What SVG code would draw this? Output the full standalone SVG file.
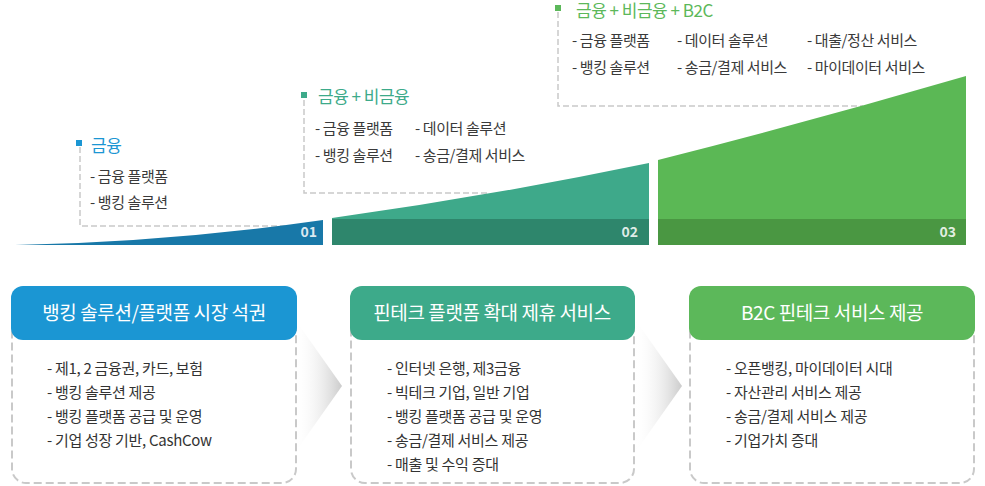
<svg xmlns="http://www.w3.org/2000/svg" width="985" height="486" viewBox="0 0 985 486">
<style>
text{font-family:"Noto Sans CJK KR","Noto Sans",sans-serif}
.item{font-size:15px;fill:#3a3a3a;letter-spacing:-0.4px}
.ttl{font-size:17px;letter-spacing:-0.5px}
.lead{fill:none;stroke:#c9c9c9;stroke-width:1.5;stroke-dasharray:6 3}
.num{font-size:14px;font-weight:bold;fill:#fff;fill-opacity:0.85;text-anchor:end}
.frame{fill:#fff;stroke:#c9c9c9;stroke-width:2;stroke-dasharray:8 4}
.head{font-size:19px;fill:#fff;text-anchor:middle;letter-spacing:-0.4px}
.body{font-size:15px;fill:#333;letter-spacing:-0.3px}
</style>
<defs>
<linearGradient id="chev" x1="0" y1="0" x2="1" y2="0">
<stop offset="0" stop-color="#fff" stop-opacity="0"/>
<stop offset="1" stop-color="#cbcbcb"/>
</linearGradient>
</defs>
<rect width="985" height="486" fill="#fff"/>

<g id="stage1">
<path class="lead" d="M80,147 V226 H285"/>
<rect x="76" y="140" width="6" height="6" fill="#1b96d3"/>
<text x="91" y="152" class="ttl" fill="#1b96d3">금융</text>
<text x="90" y="182" class="item">- 금융 플랫폼</text>
<text x="90" y="208" class="item">- 뱅킹 솔루션</text>
</g>

<g id="stage2">
<path class="lead" d="M304,100 V193 H490"/>
<rect x="301" y="92" width="6" height="6" fill="#3daa8a"/>
<text x="318" y="103" class="ttl" fill="#3daa8a">금융 + 비금융</text>
<text x="315" y="134" class="item">- 금융 플랫폼</text>
<text x="315" y="161" class="item">- 뱅킹 솔루션</text>
<text x="415" y="134" class="item">- 데이터 솔루션</text>
<text x="415" y="161" class="item">- 송금/결제 서비스</text>
</g>

<g id="stage3">
<path class="lead" d="M558,12 V106 H863"/>
<rect x="555" y="5" width="6" height="6" fill="#5cb85a"/>
<text x="576" y="17" class="ttl" fill="#5cb85a">금융 + 비금융 + B2C</text>
<text x="572" y="46" class="item">- 금융 플랫폼</text>
<text x="572" y="73" class="item">- 뱅킹 솔루션</text>
<text x="677" y="46" class="item">- 데이터 솔루션</text>
<text x="677" y="73" class="item">- 송금/결제 서비스</text>
<text x="807" y="46" class="item">- 대출/정산 서비스</text>
<text x="807" y="73" class="item">- 마이데이터 서비스</text>
</g>

<g id="curve1">
<path d="M15,245 Q169,242 323,220 L323,245 Z" fill="#1878a8"/>
<text x="317" y="237" class="num">01</text>
</g>
<g id="curve2">
<path d="M332,245 L332,218 Q490,196 649,163 L649,245 Z" fill="#3ea98a"/>
<rect x="332" y="219" width="317" height="26" fill="#2e866c"/>
<text x="638" y="237" class="num">02</text>
</g>
<g id="curve3">
<path d="M658,245 L658,160 Q812,121 966,76 L966,245 Z" fill="#5bb855"/>
<rect x="658" y="219" width="308" height="26" fill="#4a9742"/>
<text x="956" y="237" class="num">03</text>
</g>

<g id="connectors">
<polygon points="294,318 342,386 294,454" fill="url(#chev)"/>
<polygon points="634,318 682,386 634,454" fill="url(#chev)"/>
</g>

<g id="box1">
<rect class="frame" x="12" y="287" width="284" height="196" rx="14"/>
<rect x="11" y="286" width="286" height="54" rx="12" fill="#1b96d3"/>
<text x="154" y="320" class="head">뱅킹 솔루션/플랫폼 시장 석권</text>
<text x="47" y="374" class="body">- 제1, 2 금융권, 카드, 보험</text>
<text x="47" y="398" class="body">- 뱅킹 솔루션 제공</text>
<text x="47" y="422" class="body">- 뱅킹 플랫폼 공급 및 운영</text>
<text x="47" y="446" class="body">- 기업 성장 기반, CashCow</text>
</g>

<g id="box2">
<rect class="frame" x="351" y="287" width="283" height="196" rx="14"/>
<rect x="350" y="286" width="285" height="54" rx="12" fill="#3daa8a"/>
<text x="492" y="320" class="head">핀테크 플랫폼 확대 제휴 서비스</text>
<text x="387" y="374" class="body">- 인터넷 은행, 제3금융</text>
<text x="387" y="398" class="body">- 빅테크 기업, 일반 기업</text>
<text x="387" y="422" class="body">- 뱅킹 플랫폼 공급 및 운영</text>
<text x="387" y="446" class="body">- 송금/결제 서비스 제공</text>
<text x="387" y="470" class="body">- 매출 및 수익 증대</text>
</g>

<g id="box3">
<rect class="frame" x="690" y="287" width="284" height="196" rx="14"/>
<rect x="689" y="286" width="286" height="54" rx="12" fill="#5cb85a"/>
<text x="832" y="320" class="head">B2C 핀테크 서비스 제공</text>
<text x="726" y="374" class="body">- 오픈뱅킹, 마이데이터 시대</text>
<text x="726" y="398" class="body">- 자산관리 서비스 제공</text>
<text x="726" y="422" class="body">- 송금/결제 서비스 제공</text>
<text x="726" y="446" class="body">- 기업가치 증대</text>
</g>
</svg>
